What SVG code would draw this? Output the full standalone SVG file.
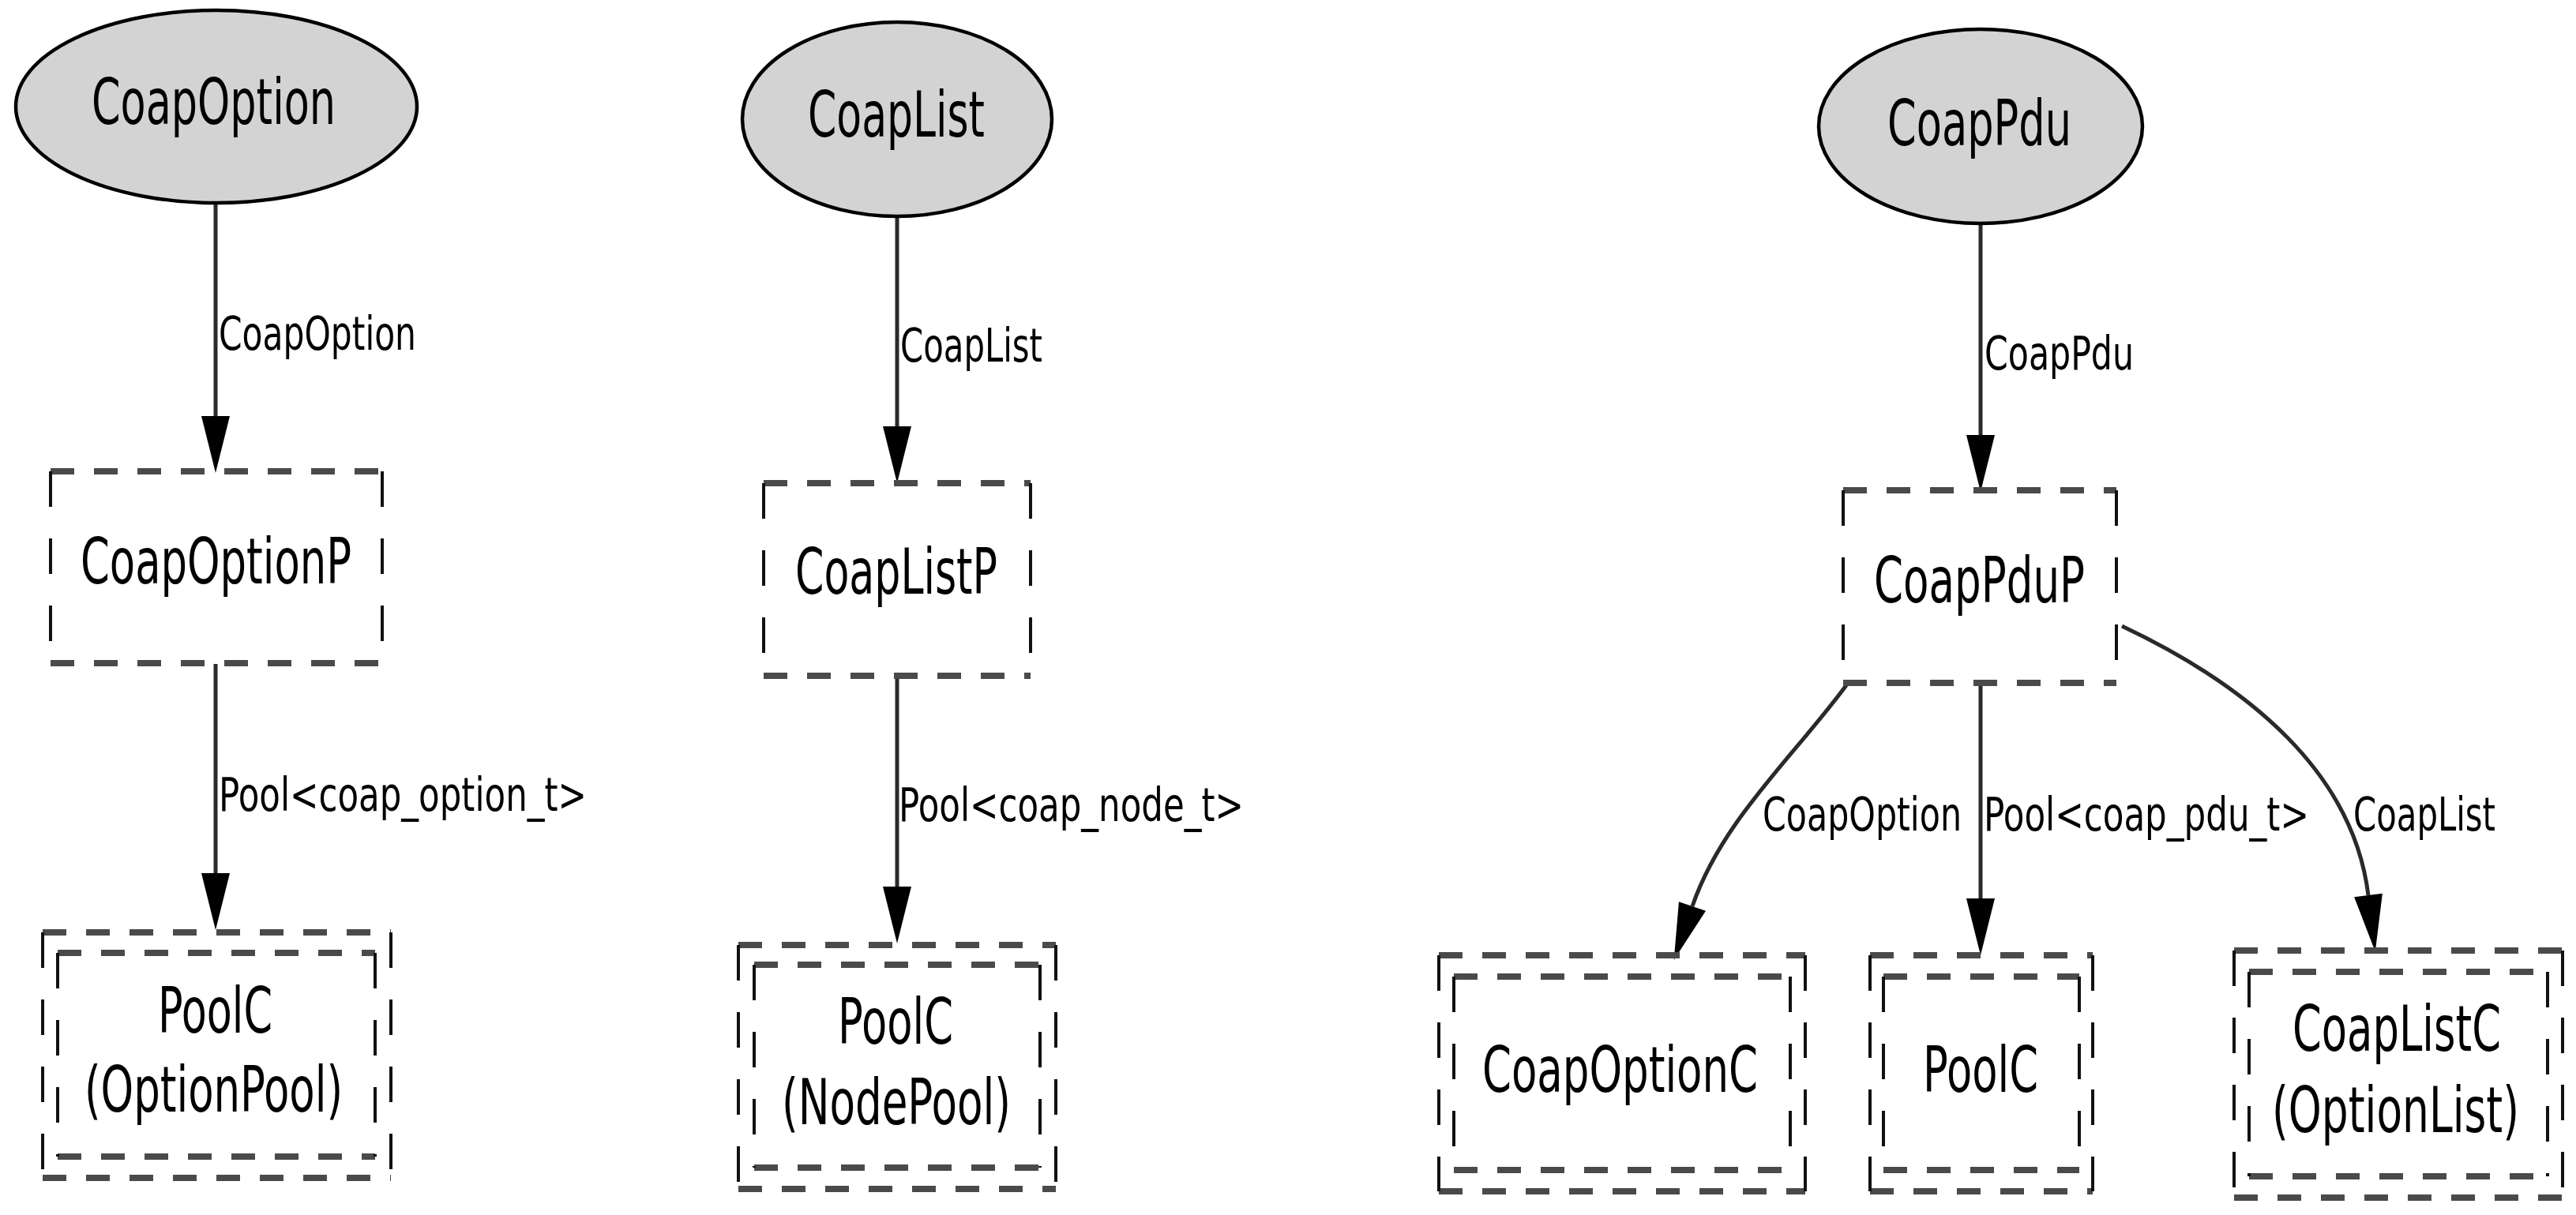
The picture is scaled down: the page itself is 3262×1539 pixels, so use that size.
<svg xmlns="http://www.w3.org/2000/svg" width="3262" height="1539" viewBox="0 0 3262 1539">
<style>
.bg{fill:#ffffff}
.ell{fill:#d3d3d3;stroke:#000;stroke-width:4.5}
.h{fill:none;stroke:#4a4a4a;stroke-width:8;stroke-dasharray:30 25}
.v{fill:none;stroke:#111;stroke-width:4;stroke-dasharray:45 40}
.nt{font-family:"DejaVu Sans","Liberation Sans",sans-serif;font-size:80px;fill:#000}
.et{font-family:"DejaVu Sans","Liberation Sans",sans-serif;font-size:59px;fill:#000}
.edge{fill:none;stroke:#2a2a2a;stroke-width:5}
</style>
<defs>
<marker id="arr" markerUnits="userSpaceOnUse" markerWidth="80" markerHeight="40" refX="0" refY="18" orient="auto" viewBox="0 0 80 40" overflow="visible">
<path d="M0,0 L72,18 L0,36 Z" fill="#000"/>
</marker>
</defs>
<rect class="bg" x="0" y="0" width="3262" height="1539"/>

<g id="connectors">
<path class="edge" d="M273,257 L273,527" marker-end="url(#arr)"/>
<path class="edge" d="M273,841 L273,1106" marker-end="url(#arr)"/>
<path class="edge" d="M1136,275 L1136,540" marker-end="url(#arr)"/>
<path class="edge" d="M1136,857 L1136,1123" marker-end="url(#arr)"/>
<path class="edge" d="M2508,284 L2508,551" marker-end="url(#arr)"/>
<path class="edge" d="M2508,866 L2508,1138" marker-end="url(#arr)"/>
<path class="edge" d="M2338,868 C2270,960 2180,1040 2143,1148" marker-end="url(#arr)"/>
<path class="edge" d="M2687,793 C2850,870 2980,980 2999,1134" marker-end="url(#arr)"/>
<text class="et" x="277" y="443" textLength="250" lengthAdjust="spacingAndGlyphs">CoapOption</text>
<text class="et" x="277" y="1027" textLength="466" lengthAdjust="spacingAndGlyphs">Pool&lt;coap_option_t&gt;</text>
<text class="et" x="1140" y="458" textLength="180" lengthAdjust="spacingAndGlyphs">CoapList</text>
<text class="et" x="1138" y="1040" textLength="437" lengthAdjust="spacingAndGlyphs">Pool&lt;coap_node_t&gt;</text>
<text class="et" x="2513" y="468" textLength="189" lengthAdjust="spacingAndGlyphs">CoapPdu</text>
<text class="et" x="2232" y="1052" textLength="252" lengthAdjust="spacingAndGlyphs">CoapOption</text>
<text class="et" x="2512" y="1052" textLength="412" lengthAdjust="spacingAndGlyphs">Pool&lt;coap_pdu_t&gt;</text>
<text class="et" x="2980" y="1052" textLength="180" lengthAdjust="spacingAndGlyphs">CoapList</text>
</g>

<g id="node-CoapOption">
<ellipse class="ell" cx="274" cy="135" rx="254" ry="122"/>
<text class="nt" x="116" y="157" textLength="309" lengthAdjust="spacingAndGlyphs">CoapOption</text>
</g>
<g id="node-CoapOptionP">
<path class="h" d="M64,597 h420 M64,840 h420"/>
<path class="v" d="M64,597 v243 M484,597 v243"/>
<text class="nt" x="102" y="739" textLength="343" lengthAdjust="spacingAndGlyphs">CoapOptionP</text>
</g>
<g id="node-OptionPool">
<path class="h" d="M54,1181 h441 M54,1492 h441 M73,1207 h402 M73,1465 h402"/>
<path class="v" d="M54,1181 v311 M495,1181 v311 M73,1207 v258 M475,1207 v258"/>
<text class="nt" x="200" y="1308" textLength="145" lengthAdjust="spacingAndGlyphs">PoolC</text>
<text class="nt" x="107" y="1408" textLength="327" lengthAdjust="spacingAndGlyphs">(OptionPool)</text>
</g>

<g id="node-CoapList">
<ellipse class="ell" cx="1136" cy="151" rx="196" ry="123"/>
<text class="nt" x="1023" y="173" textLength="224" lengthAdjust="spacingAndGlyphs">CoapList</text>
</g>
<g id="node-CoapListP">
<path class="h" d="M967,612 h338 M967,856 h338"/>
<path class="v" d="M967,612 v244 M1305,612 v244"/>
<text class="nt" x="1007" y="752" textLength="256" lengthAdjust="spacingAndGlyphs">CoapListP</text>
</g>
<g id="node-NodePool">
<path class="h" d="M935,1197 h402 M935,1506 h402 M955,1222 h362 M955,1479 h362"/>
<path class="v" d="M935,1197 v309 M1337,1197 v309 M955,1222 v257 M1317,1222 v257"/>
<text class="nt" x="1061" y="1322" textLength="146" lengthAdjust="spacingAndGlyphs">PoolC</text>
<text class="nt" x="990" y="1424" textLength="290" lengthAdjust="spacingAndGlyphs">(NodePool)</text>
</g>

<g id="node-CoapPdu">
<ellipse class="ell" cx="2508" cy="160" rx="205" ry="123"/>
<text class="nt" x="2390" y="184" textLength="233" lengthAdjust="spacingAndGlyphs">CoapPdu</text>
</g>
<g id="node-CoapPduP">
<path class="h" d="M2334,621 h346 M2334,865 h346"/>
<path class="v" d="M2334,621 v244 M2680,621 v244"/>
<text class="nt" x="2373" y="763" textLength="267" lengthAdjust="spacingAndGlyphs">CoapPduP</text>
</g>
<g id="node-CoapOptionC">
<path class="h" d="M1822,1210 h464 M1822,1509 h464 M1841,1237 h426 M1841,1482 h426"/>
<path class="v" d="M1822,1210 v299 M2286,1210 v299 M1841,1237 v245 M2267,1237 v245"/>
<text class="nt" x="1877" y="1383" textLength="349" lengthAdjust="spacingAndGlyphs">CoapOptionC</text>
</g>
<g id="node-PduPool">
<path class="h" d="M2368,1210 h282 M2368,1509 h282 M2385,1237 h248 M2385,1482 h248"/>
<path class="v" d="M2368,1210 v299 M2650,1210 v299 M2385,1237 v245 M2633,1237 v245"/>
<text class="nt" x="2435" y="1383" textLength="146" lengthAdjust="spacingAndGlyphs">PoolC</text>
</g>
<g id="node-OptionList">
<path class="h" d="M2829,1204 h416 M2829,1517 h416 M2848,1231 h378 M2848,1490 h378"/>
<path class="v" d="M2829,1204 v313 M3245,1204 v313 M2848,1231 v259 M3226,1231 v259"/>
<text class="nt" x="2903" y="1331" textLength="264" lengthAdjust="spacingAndGlyphs">CoapListC</text>
<text class="nt" x="2877" y="1434" textLength="313" lengthAdjust="spacingAndGlyphs">(OptionList)</text>
</g>
</svg>
